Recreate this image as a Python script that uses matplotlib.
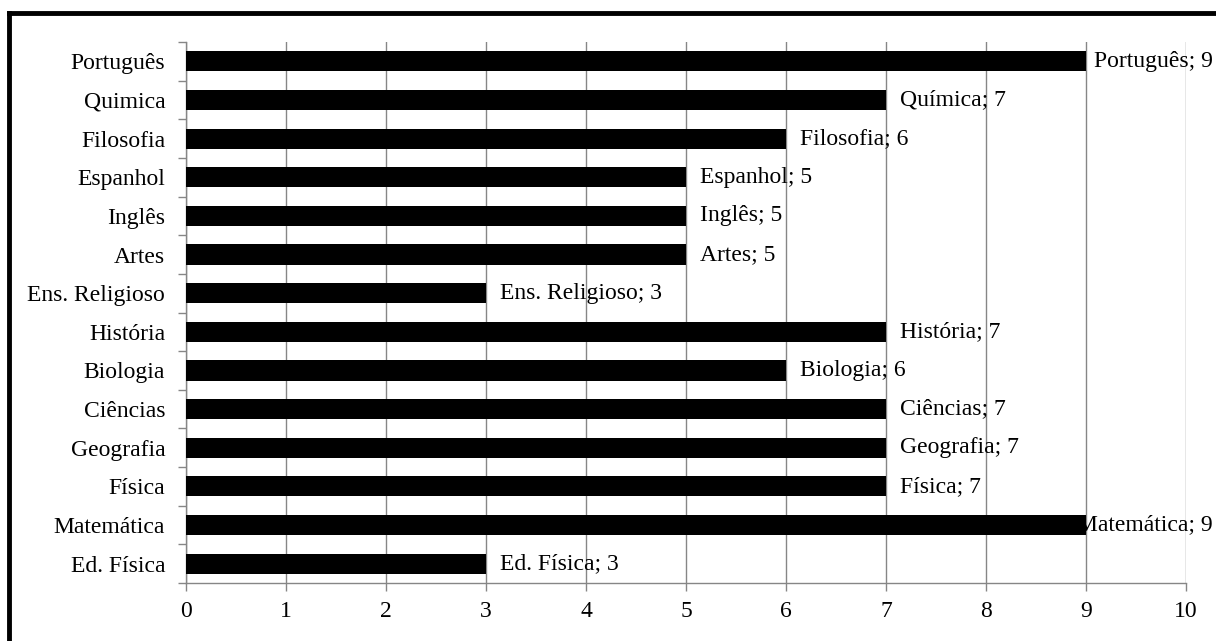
import matplotlib
matplotlib.use("Agg")
import matplotlib.pyplot as plt
from matplotlib.lines import Line2D
import numpy as np

# Subjects listed bottom-to-top as drawn on the y axis
subjects = ["Ed. Física", "Matemática", "Física", "Geografia", "Ciências",
            "Biologia", "História", "Ens. Religioso", "Artes", "Inglês",
            "Espanhol", "Filosofia", "Quimica", "Português"]
bar_labels = ["Ed. Física", "Matemática", "Física", "Geografia", "Ciências",
              "Biologia", "História", "Ens. Religioso", "Artes", "Inglês",
              "Espanhol", "Filosofia", "Química", "Português"]
counts = [3, 9, 7, 7, 7, 6, 7, 3, 5, 5, 5, 6, 7, 9]
x_ticks = list(range(0, 11))

plt.rcParams["font.family"] = ["Liberation Serif", "DejaVu Serif"]
FS = 17

W, H, DPI = 1216, 641, 100
fig = plt.figure(figsize=(W / DPI, H / DPI), dpi=DPI)
ax = fig.add_axes([186 / W, 1 - 583 / H, 1000 / W, 541 / H])

grid_col = "#868686"
y = np.arange(len(subjects))
ax.barh(y, counts, height=0.52, color="black", zorder=3)

ax.set_xlim(0, 10)
ax.set_ylim(-0.5, len(subjects) - 0.5)
ax.set_xticks(x_ticks)
ax.set_xticklabels([str(t) for t in x_ticks], fontsize=FS)
ax.set_yticks(y)
ax.set_yticklabels(subjects, fontsize=FS)
ax.tick_params(axis="y", length=0, pad=15)
ax.set_yticks(np.arange(-0.5, len(subjects), 1.0), minor=True)
ax.tick_params(axis="y", which="minor", length=6, color=grid_col, width=1)
ax.tick_params(axis="x", length=6, color=grid_col, width=1, pad=7)

ax.grid(axis="x", color=grid_col, linewidth=1, zorder=0)
for side in ["top", "right"]:
    ax.spines[side].set_visible(False)
for side in ["left", "bottom"]:
    ax.spines[side].set_color(grid_col)
    ax.spines[side].set_linewidth(1)

# Data labels "Name; value" to the right of each bar, kept inside the frame
fig.canvas.draw()
renderer = fig.canvas.get_renderer()
right_limit = 1213
offset = 14
for yi, (name, v) in enumerate(zip(bar_labels, counts)):
    t = ax.annotate(f"{name}; {v}", xy=(v, yi), xytext=(offset, 0),
                    textcoords="offset pixels",
                    ha="left", va="center", fontsize=FS, zorder=2)
    bb = t.get_window_extent(renderer)
    if bb.x1 > right_limit:
        t.set_position((offset - (bb.x1 - right_limit), 0))

# Thick outer frame (top and left edges)
fig.add_artist(Line2D([9 / W, 1.0], [1 - 13 / H, 1 - 13 / H],
                      transform=fig.transFigure, color="black", linewidth=3.5))
fig.add_artist(Line2D([9 / W, 9 / W], [0.0, 1 - 13 / H],
                      transform=fig.transFigure, color="black", linewidth=3.5))

fig.savefig("out.png", dpi=DPI)
